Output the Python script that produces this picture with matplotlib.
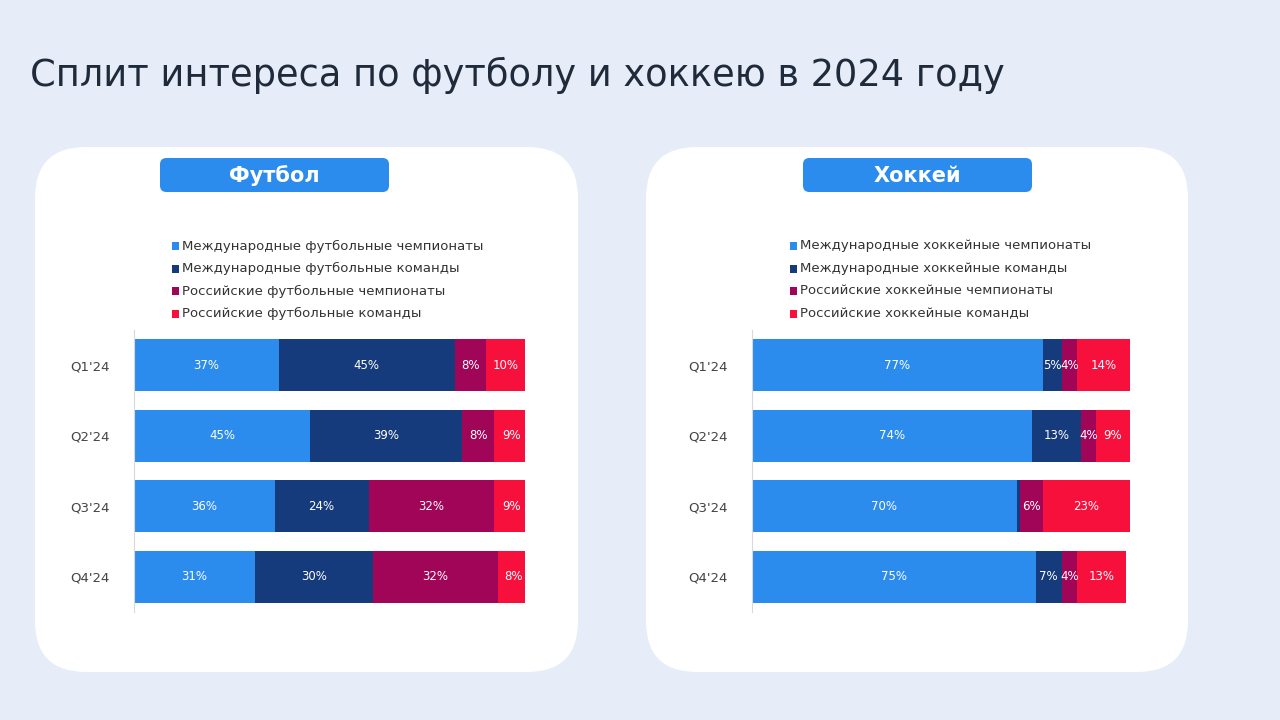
import matplotlib.pyplot as plt
from matplotlib.patches import FancyBboxPatch, Rectangle
import numpy as np

quarters = ["Q1'24", "Q2'24", "Q3'24", "Q4'24"]

football_labels = ["Международные футбольные чемпионаты", "Международные футбольные команды",
                   "Российские футбольные чемпионаты", "Российские футбольные команды"]
football_intl_champ = [37, 45, 36, 31]
football_intl_teams = [45, 39, 24, 30]
football_rus_champ = [8, 8, 32, 32]
football_rus_teams = [10, 9, 9, 8]

hockey_labels = ["Международные хоккейные чемпионаты", "Международные хоккейные команды",
                 "Российские хоккейные чемпионаты", "Российские хоккейные команды"]
hockey_intl_champ = [77, 74, 70, 75]
hockey_intl_teams = [5, 13, 1, 7]
hockey_rus_champ = [4, 4, 6, 4]
hockey_rus_teams = [14, 9, 23, 13]

colors = ["#2B8CEE", "#153B7C", "#A10558", "#F8103C"]
BG = "#E7EDF8"

fig = plt.figure(figsize=(12.8, 7.2), dpi=100, facecolor=BG)
W, H = 1280, 720

def px(x, y):
    return x / W, 1 - y / H

fig.text(*px(30, 75), "Сплит интереса по футболу и хоккею в 2024 году",
         fontsize=26.5, color="#1F2A3A", va="center", ha="left")

def panel(x0, x1, hx0, hx1, title, labels, series, ax_x0, ax_x1):
    # white card
    fig.patches.append(FancyBboxPatch(px(x0, 672), (x1 - x0) / W, (672 - 147) / H,
                                      boxstyle="round,pad=0,rounding_size=0.04",
                                      transform=fig.transFigure, facecolor="white",
                                      edgecolor="none", mutation_aspect=W / H))
    # header pill
    fig.patches.append(FancyBboxPatch(px(hx0, 192), (hx1 - hx0) / W, 34 / H,
                                      boxstyle="round,pad=0,rounding_size=0.005",
                                      transform=fig.transFigure, facecolor="#2B8CEE",
                                      edgecolor="none", mutation_aspect=W / H))
    fig.text(*px((hx0 + hx1) / 2, 176), title, fontsize=15, fontweight="bold",
             color="white", ha="center", va="center")
    # legend
    for i, lab in enumerate(labels):
        y = 246 + i * 22.5
        sx, sy = px(ax_x0 + 38, y + 4)
        fig.patches.append(Rectangle((sx, sy), 7 / W, 8 / H, transform=fig.transFigure,
                                     facecolor=colors[i], edgecolor="none"))
        fig.text(*px(ax_x0 + 48, y), lab, fontsize=9.5, color="#333333", va="center")
    # bars
    ax = fig.add_axes([ax_x0 / W, 1 - 612 / H, (ax_x1 - ax_x0) / W, 282 / H], zorder=5)
    ypos = np.arange(len(quarters))
    left = np.zeros(len(quarters))
    for i, vals in enumerate(series):
        vals = np.array(vals, dtype=float)
        ax.barh(ypos, vals, left=left, height=0.74, color=colors[i])
        for y, v, l in zip(ypos, vals, left):
            if v >= 3:
                ax.text(l + v / 2, y, f"{int(v)}%", color="white", fontsize=8.5,
                        ha="center", va="center")
        left += vals
    ax.set_xlim(0, 100)
    ax.set_ylim(3.5, -0.5)
    ax.set_yticks(ypos)
    ax.set_yticklabels(quarters, fontsize=9.5, color="#444444")
    ax.tick_params(left=False, pad=14)
    ax.set_xticks([])
    for s in ["top", "right", "bottom"]:
        ax.spines[s].set_visible(False)
    ax.spines["left"].set_color("#D9D9D9")
    ax.set_facecolor("none")

panel(35, 578, 160, 389, "Футбол", football_labels,
      [football_intl_champ, football_intl_teams, football_rus_champ, football_rus_teams], 134, 525)
panel(646, 1188, 803, 1032, "Хоккей", hockey_labels,
      [hockey_intl_champ, hockey_intl_teams, hockey_rus_champ, hockey_rus_teams], 752, 1130)

fig.savefig("out.png", dpi=100, facecolor=BG)
